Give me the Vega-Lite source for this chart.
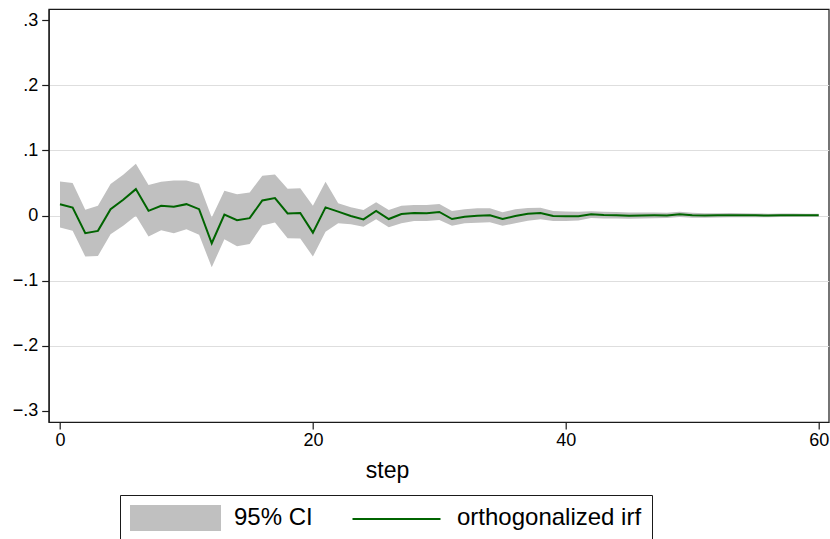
{
  "$schema": "https://vega.github.io/schema/vega-lite/v6.json",
  "width": 780,
  "height": 413,
  "autosize": "none",
  "padding": {"left": 48.7, "top": 9, "right": 1.3, "bottom": 117},
  "background": "white",
  "config": {
    "font": "Liberation Sans",
    "view": {"stroke": "#1a1a1a", "strokeWidth": 1.2},
    "axis": {
      "domainColor": "#1a1a1a",
      "tickColor": "#1a1a1a",
      "labelColor": "#000000",
      "titleColor": "#000000",
      "labelFont": "Liberation Sans",
      "titleFont": "Liberation Sans",
      "labelFontSize": 18,
      "tickSize": 7,
      "tickWidth": 1.2,
      "domainWidth": 1.2
    }
  },
  "data": {
    "values": [
      {"step": 0, "irf": 0.0174, "lo": -0.0185, "hi": 0.0523},
      {"step": 1, "irf": 0.0123, "lo": -0.0236, "hi": 0.0497},
      {"step": 2, "irf": -0.0272, "lo": -0.0631, "hi": 0.0087},
      {"step": 3, "irf": -0.0236, "lo": -0.0621, "hi": 0.0149},
      {"step": 4, "irf": 0.0097, "lo": -0.0287, "hi": 0.0482},
      {"step": 5, "irf": 0.0241, "lo": -0.0159, "hi": 0.0626},
      {"step": 6, "irf": 0.0405, "lo": -0.0005, "hi": 0.0795},
      {"step": 7, "irf": 0.0072, "lo": -0.0323, "hi": 0.0467},
      {"step": 8, "irf": 0.0149, "lo": -0.0226, "hi": 0.0518},
      {"step": 9, "irf": 0.0133, "lo": -0.0272, "hi": 0.0538},
      {"step": 10, "irf": 0.0174, "lo": -0.0210, "hi": 0.0538},
      {"step": 11, "irf": 0.0097, "lo": -0.0297, "hi": 0.0487},
      {"step": 12, "irf": -0.0426, "lo": -0.0795, "hi": -0.0031},
      {"step": 13, "irf": 0.0015, "lo": -0.0364, "hi": 0.0379},
      {"step": 14, "irf": -0.0072, "lo": -0.0472, "hi": 0.0328},
      {"step": 15, "irf": -0.0041, "lo": -0.0436, "hi": 0.0354},
      {"step": 16, "irf": 0.0231, "lo": -0.0154, "hi": 0.0610},
      {"step": 17, "irf": 0.0267, "lo": -0.0108, "hi": 0.0631},
      {"step": 18, "irf": 0.0031, "lo": -0.0349, "hi": 0.0410},
      {"step": 19, "irf": 0.0038, "lo": -0.0354, "hi": 0.0420},
      {"step": 20, "irf": -0.0263, "lo": -0.0630, "hi": 0.0151},
      {"step": 21, "irf": 0.0125, "lo": -0.0248, "hi": 0.0519},
      {"step": 22, "irf": 0.0059, "lo": -0.0120, "hi": 0.0187},
      {"step": 23, "irf": -0.0008, "lo": -0.0135, "hi": 0.0125},
      {"step": 24, "irf": -0.0059, "lo": -0.0171, "hi": 0.0084},
      {"step": 25, "irf": 0.0069, "lo": -0.0059, "hi": 0.0202},
      {"step": 26, "irf": -0.0054, "lo": -0.0181, "hi": 0.0084},
      {"step": 27, "irf": 0.0023, "lo": -0.0120, "hi": 0.0151},
      {"step": 28, "irf": 0.0038, "lo": -0.0084, "hi": 0.0161},
      {"step": 29, "irf": 0.0033, "lo": -0.0084, "hi": 0.0161},
      {"step": 30, "irf": 0.0054, "lo": -0.0069, "hi": 0.0176},
      {"step": 31, "irf": -0.0054, "lo": -0.0156, "hi": 0.0069},
      {"step": 32, "irf": -0.0018, "lo": -0.0120, "hi": 0.0095},
      {"step": 33, "irf": -0.0003, "lo": -0.0110, "hi": 0.0110},
      {"step": 34, "irf": 0.0003, "lo": -0.0105, "hi": 0.0110},
      {"step": 35, "irf": -0.0054, "lo": -0.0156, "hi": 0.0049},
      {"step": 36, "irf": -0.0008, "lo": -0.0120, "hi": 0.0095},
      {"step": 37, "irf": 0.0028, "lo": -0.0079, "hi": 0.0115},
      {"step": 38, "irf": 0.0038, "lo": -0.0059, "hi": 0.0120},
      {"step": 39, "irf": -0.0008, "lo": -0.0085, "hi": 0.0068},
      {"step": 40, "irf": -0.0013, "lo": -0.0085, "hi": 0.0060},
      {"step": 41, "irf": -0.0010, "lo": -0.0075, "hi": 0.0058},
      {"step": 42, "irf": 0.0018, "lo": -0.0040, "hi": 0.0065},
      {"step": 43, "irf": 0.0008, "lo": -0.0045, "hi": 0.0058},
      {"step": 44, "irf": 0.0003, "lo": -0.0045, "hi": 0.0052},
      {"step": 45, "irf": -0.0003, "lo": -0.0048, "hi": 0.0045},
      {"step": 46, "irf": 0.0000, "lo": -0.0045, "hi": 0.0045},
      {"step": 47, "irf": 0.0002, "lo": -0.0042, "hi": 0.0046},
      {"step": 48, "irf": 0.0000, "lo": -0.0040, "hi": 0.0042},
      {"step": 49, "irf": 0.0018, "lo": -0.0022, "hi": 0.0056},
      {"step": 50, "irf": 0.0005, "lo": -0.0033, "hi": 0.0042},
      {"step": 51, "irf": 0.0000, "lo": -0.0035, "hi": 0.0036},
      {"step": 52, "irf": 0.0003, "lo": -0.0030, "hi": 0.0036},
      {"step": 53, "irf": 0.0005, "lo": -0.0027, "hi": 0.0037},
      {"step": 54, "irf": 0.0003, "lo": -0.0027, "hi": 0.0033},
      {"step": 55, "irf": 0.0003, "lo": -0.0026, "hi": 0.0032},
      {"step": 56, "irf": 0.0000, "lo": -0.0027, "hi": 0.0028},
      {"step": 57, "irf": 0.0004, "lo": -0.0022, "hi": 0.0030},
      {"step": 58, "irf": 0.0004, "lo": -0.0021, "hi": 0.0029},
      {"step": 59, "irf": 0.0003, "lo": -0.0020, "hi": 0.0027},
      {"step": 60, "irf": 0.0002, "lo": -0.0020, "hi": 0.0025}
    ]
  },
  "encoding": {
    "x": {
      "field": "step",
      "type": "quantitative",
      "scale": {"domain": [-0.893, 60.79], "nice": false, "zero": false},
      "axis": {
        "values": [0, 20, 40, 60],
        "grid": false,
        "labelPadding": 2,
        "title": "step",
        "titleFontSize": 23,
        "titleFontWeight": "normal",
        "titleX": 338.3,
        "titleY": 55.7,
        "titleBaseline": "alphabetic",
        "titleAlign": "center",
        "titleAnchor": null
      }
    }
  },
  "layer": [
    {
      "mark": {"type": "area", "opacity": 1},
      "encoding": {
        "y": {
          "field": "hi",
          "type": "quantitative",
          "scale": {"domain": [-0.317, 0.317], "nice": false, "zero": false},
          "axis": {
            "values": [-0.3, -0.2, -0.1, 0, 0.1, 0.2, 0.3],
            "labelExpr": "datum.value == 0 ? '0' : replace(format(datum.value, '.1f'), '0.', '.')",
            "labelPadding": 4,
            "title": null,
            "grid": true,
            "gridColor": "#dedede",
            "gridWidth": 1.2,
            "gridOpacity": {"condition": {"test": "abs(datum.value) > 0.25", "value": 0}, "value": 1}
          }
        },
        "y2": {"field": "lo"},
        "fill": {
          "datum": "95% CI",
          "type": "nominal",
          "scale": {"domain": ["95% CI", "orthogonalized irf"], "range": ["#c0c0c0", "transparent"]},
          "legend": {
            "orient": "none",
            "legendX": 71.3,
            "legendY": 486,
            "direction": "horizontal",
            "columns": 2,
            "columnPadding": 40,
            "title": null,
            "padding": 10,
            "strokeColor": "#1a1a1a",
            "fillColor": "white",
            "symbolSize": 676,
            "symbolType": "M-3.5,-1H3.5V1H-3.5Z",
            "symbolStrokeWidth": 0,
            "symbolOffset": 32.5,
            "symbolOpacity": 1,
            "labelFontSize": 24,
            "labelFont": "Liberation Sans",
            "labelColor": "#000000",
            "labelOffset": 45.5,
            "labelLimit": 400
          }
        }
      }
    },
    {
      "mark": {"type": "line", "strokeWidth": 2},
      "encoding": {
        "y": {"field": "irf", "type": "quantitative"},
        "stroke": {
          "datum": "orthogonalized irf",
          "type": "nominal",
          "scale": {"domain": ["orthogonalized irf"], "range": ["#006400"]},
          "legend": {
            "orient": "none",
            "legendX": 301.3,
            "legendY": 496,
            "title": null,
            "padding": 0,
            "symbolSize": 676,
            "symbolType": "M-3.385,0H3.385",
            "symbolStrokeWidth": 2,
            "symbolOffset": 32.5,
            "symbolOpacity": 1,
            "labelExpr": "''",
            "labelFontSize": 1
          }
        }
      }
    }
  ]
}
